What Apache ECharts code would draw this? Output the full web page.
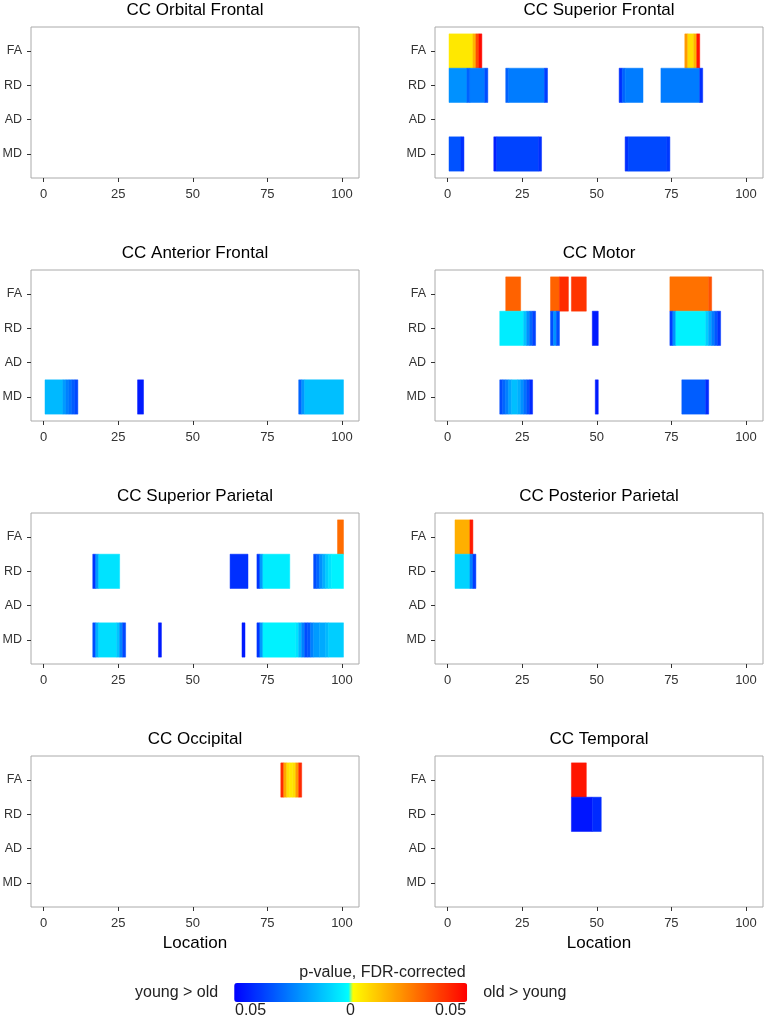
<!DOCTYPE html>
<html>
<head>
<meta charset="utf-8">
<script src="https://cdn.jsdelivr.net/npm/echarts@6/dist/echarts.min.js"></script>
<style>
html, body { margin: 0; padding: 0; background: #fff; }
#main { width: 765px; height: 1020px; }
</style>
</head>
<body>
<div id="main"></div>
<script>
var myChart = echarts.init(document.getElementById('main'));

// rows of every panel, top to bottom
var metrics = ['FA', 'RD', 'AD', 'MD'];
var xTicks = [0, 25, 50, 75, 100];
var panelTitles = ['CC Orbital Frontal', 'CC Superior Frontal', 'CC Anterior Frontal', 'CC Motor',
    'CC Superior Parietal', 'CC Posterior Parietal', 'CC Occipital', 'CC Temporal'];

// runs of locations: [first, last, metric row, signed p]
// p < 0 : young > old,  p > 0 : old > young
var orbitalFrontal = [];
var superiorFrontal = [
    [1, 8, 0, 0.005], [9, 9, 0, 0.015], [10, 10, 0, 0.035], [11, 11, 0, 0.048],
    [80, 80, 0, 0.02], [81, 82, 0, 0.007], [83, 83, 0, 0.015], [84, 84, 0, 0.046],
    [1, 6, 1, -0.022], [7, 7, 1, -0.031], [8, 12, 1, -0.026], [13, 13, 1, -0.035],
    [20, 20, 1, -0.031], [21, 32, 1, -0.026], [33, 33, 1, -0.038],
    [58, 58, 1, -0.041], [59, 59, 1, -0.031], [60, 65, 1, -0.026],
    [72, 84, 1, -0.026], [85, 85, 1, -0.041],
    [1, 4, 3, -0.034], [5, 5, 3, -0.041],
    [16, 16, 3, -0.044], [17, 30, 3, -0.037], [31, 31, 3, -0.041],
    [60, 60, 3, -0.041], [61, 73, 3, -0.036], [74, 74, 3, -0.039]
];
var anteriorFrontal = [
    [1, 6, 3, -0.014], [7, 7, 3, -0.02], [8, 8, 3, -0.025], [9, 9, 3, -0.028],
    [10, 10, 3, -0.032], [11, 11, 3, -0.036],
    [32, 33, 3, -0.045],
    [86, 86, 3, -0.03], [87, 87, 3, -0.021], [88, 100, 3, -0.013]
];
var motor = [
    [20, 24, 0, 0.031], [35, 37, 0, 0.031], [38, 40, 0, 0.042], [42, 46, 0, 0.04],
    [75, 87, 0, 0.028], [88, 88, 0, 0.034],
    [18, 25, 1, -0.004], [26, 26, 1, -0.012], [27, 27, 1, -0.022], [28, 28, 1, -0.03], [29, 29, 1, -0.037],
    [35, 35, 1, -0.035], [36, 36, 1, -0.022], [37, 37, 1, -0.035],
    [49, 50, 1, -0.045],
    [75, 75, 1, -0.038], [76, 76, 1, -0.022], [77, 86, 1, -0.003], [87, 87, 1, -0.01],
    [88, 88, 1, -0.018], [89, 89, 1, -0.026], [90, 90, 1, -0.033], [91, 91, 1, -0.04],
    [18, 18, 3, -0.035], [19, 19, 3, -0.03], [20, 20, 3, -0.025], [21, 21, 3, -0.018],
    [22, 23, 3, -0.013], [24, 24, 3, -0.016], [25, 25, 3, -0.022], [26, 26, 3, -0.028],
    [27, 27, 3, -0.034], [28, 28, 3, -0.042],
    [50, 50, 3, -0.045],
    [79, 86, 3, -0.032], [87, 87, 3, -0.042]
];
var superiorParietal = [
    [99, 100, 0, 0.029],
    [17, 17, 1, -0.04], [18, 18, 1, -0.02], [19, 25, 1, -0.006],
    [63, 68, 1, -0.041],
    [72, 72, 1, -0.04], [73, 73, 1, -0.02], [74, 82, 1, -0.004],
    [91, 91, 1, -0.035], [92, 92, 1, -0.03], [93, 93, 1, -0.022], [94, 94, 1, -0.016],
    [95, 95, 1, -0.01], [96, 96, 1, -0.006], [97, 100, 1, -0.003],
    [17, 17, 3, -0.035], [18, 18, 3, -0.016], [19, 24, 3, -0.007], [25, 25, 3, -0.012],
    [26, 26, 3, -0.024], [27, 27, 3, -0.036],
    [39, 39, 3, -0.045], [67, 67, 3, -0.045],
    [72, 72, 3, -0.04], [73, 73, 3, -0.02], [74, 84, 3, -0.003], [85, 85, 3, -0.006],
    [86, 86, 3, -0.015], [87, 87, 3, -0.025], [88, 88, 3, -0.035], [89, 89, 3, -0.033],
    [90, 90, 3, -0.025], [91, 92, 3, -0.02], [93, 94, 3, -0.017], [95, 95, 3, -0.014],
    [96, 100, 3, -0.01]
];
var posteriorParietal = [
    [3, 7, 0, 0.016], [8, 8, 0, 0.045],
    [3, 7, 1, -0.009], [8, 8, 1, -0.025], [9, 9, 1, -0.038]
];
var occipital = [
    [80, 80, 0, 0.042], [81, 81, 0, 0.018], [82, 82, 0, 0.007], [83, 83, 0, 0.005],
    [84, 84, 0, 0.007], [85, 85, 0, 0.02], [86, 86, 0, 0.042]
];
var temporal = [
    [42, 46, 0, 0.046],
    [42, 48, 1, -0.046], [49, 51, 1, -0.042]
];

var panelData = [orbitalFrontal, superiorFrontal, anteriorFrontal, motor,
    superiorParietal, posteriorParietal, occipital, temporal];

// colour scale: blue -> cyan (young > old), yellow -> red (old > young)
var ramp = [];
var n = 50;
for (var i = 0; i < n; i++) {
    var g = Math.round(255 * i / (n - 1));
    ramp.push('rgb(0,' + g + ',255)');
}
for (var i = 0; i < n; i++) {
    var g = Math.round(255 * (1 - i / (n - 1)));
    ramp.push('rgb(255,' + g + ',0)');
}

var colLeft = [31, 435];
var rowTop = [27, 270, 513, 756];
var gridW = 328, gridH = 151;
var fontFamily = '"Liberation Sans", Arial, sans-serif';

function renderTile(params, api) {
    var a = api.coord([api.value(0) - 0.5, api.value(2) - 0.5]);
    var b = api.coord([api.value(1) + 0.5, api.value(2) + 0.5]);
    var color = api.visual('color');
    return {
        type: 'rect',
        shape: {
            x: Math.min(a[0], b[0]), y: Math.min(a[1], b[1]),
            width: Math.abs(b[0] - a[0]), height: Math.abs(b[1] - a[1])
        },
        style: { fill: color, stroke: color, lineWidth: 0.5 }
    };
}

var grids = [], xAxes = [], yAxes = [], titles = [], series = [];
for (var k = 0; k < 8; k++) {
    var col = k % 2, row = Math.floor(k / 2);
    grids.push({
        left: colLeft[col], top: rowTop[row], width: gridW, height: gridH,
        show: true, borderColor: '#aaaaaa', borderWidth: 1, backgroundColor: '#fff',
        containLabel: false, outerBoundsMode: 'none'
    });
    titles.push({
        text: panelTitles[k],
        left: colLeft[col] + gridW / 2, top: rowTop[row] - 25, textAlign: 'center', padding: 0,
        textStyle: { fontSize: 17, fontWeight: 'normal', color: '#000', fontFamily: fontFamily }
    });
    xAxes.push({
        type: 'value', gridIndex: k, min: -4.2, max: 105.7, position: 'bottom',
        axisLine: { show: false, onZero: false },
        splitLine: { show: false },
        axisTick: { show: true, length: 4, customValues: xTicks, lineStyle: { color: '#333', width: 1 } },
        axisLabel: { customValues: xTicks, color: '#333', fontSize: 13, margin: 10, fontFamily: fontFamily },
        name: row === 3 ? 'Location' : '',
        nameLocation: 'middle', nameGap: 28,
        nameTextStyle: { fontSize: 17, color: '#000', fontFamily: fontFamily }
    });
    yAxes.push({
        type: 'value', gridIndex: k, min: -0.7, max: 3.7, inverse: true, position: 'left',
        axisLine: { show: false, onZero: false },
        splitLine: { show: false },
        axisTick: { show: true, length: 4, customValues: [0, 1, 2, 3], lineStyle: { color: '#333', width: 1 } },
        axisLabel: {
            customValues: [0, 1, 2, 3], color: '#333', fontSize: 12.5, margin: 9, fontFamily: fontFamily,
            formatter: function (v) { return metrics[Math.round(v)]; }
        }
    });
    series.push({
        type: 'custom', name: panelTitles[k],
        xAxisIndex: k, yAxisIndex: k,
        renderItem: renderTile,
        encode: { x: [0, 1], y: 2 },
        data: panelData[k]
    });
}

option = {
    backgroundColor: '#fff',
    animation: false,
    textStyle: { fontFamily: fontFamily },
    title: titles,
    grid: grids,
    xAxis: xAxes,
    yAxis: yAxes,
    visualMap: {
        type: 'continuous', min: -0.05, max: 0.05, dimension: 3,
        orient: 'horizontal', calculable: false, hoverLink: false,
        itemWidth: 19, itemHeight: 233,
        left: 120, top: 968,
        text: ['old > young', 'young > old'], textGap: 16,
        textStyle: { fontSize: 16, color: '#222', fontFamily: fontFamily },
        inRange: { color: ramp }
    },
    graphic: [
        { type: 'text', left: 'center', top: 965, style: { text: 'p-value, FDR-corrected', font: '16px ' + fontFamily, fill: '#222' } },
        { type: 'text', left: 235, top: 1003, style: { text: '0.05', font: '16px ' + fontFamily, fill: '#222' } },
        { type: 'text', left: 346, top: 1003, style: { text: '0', font: '16px ' + fontFamily, fill: '#222' } },
        { type: 'text', left: 435, top: 1003, style: { text: '0.05', font: '16px ' + fontFamily, fill: '#222' } }
    ],
    series: series
};
myChart.setOption(option);
</script>
</body>
</html>
